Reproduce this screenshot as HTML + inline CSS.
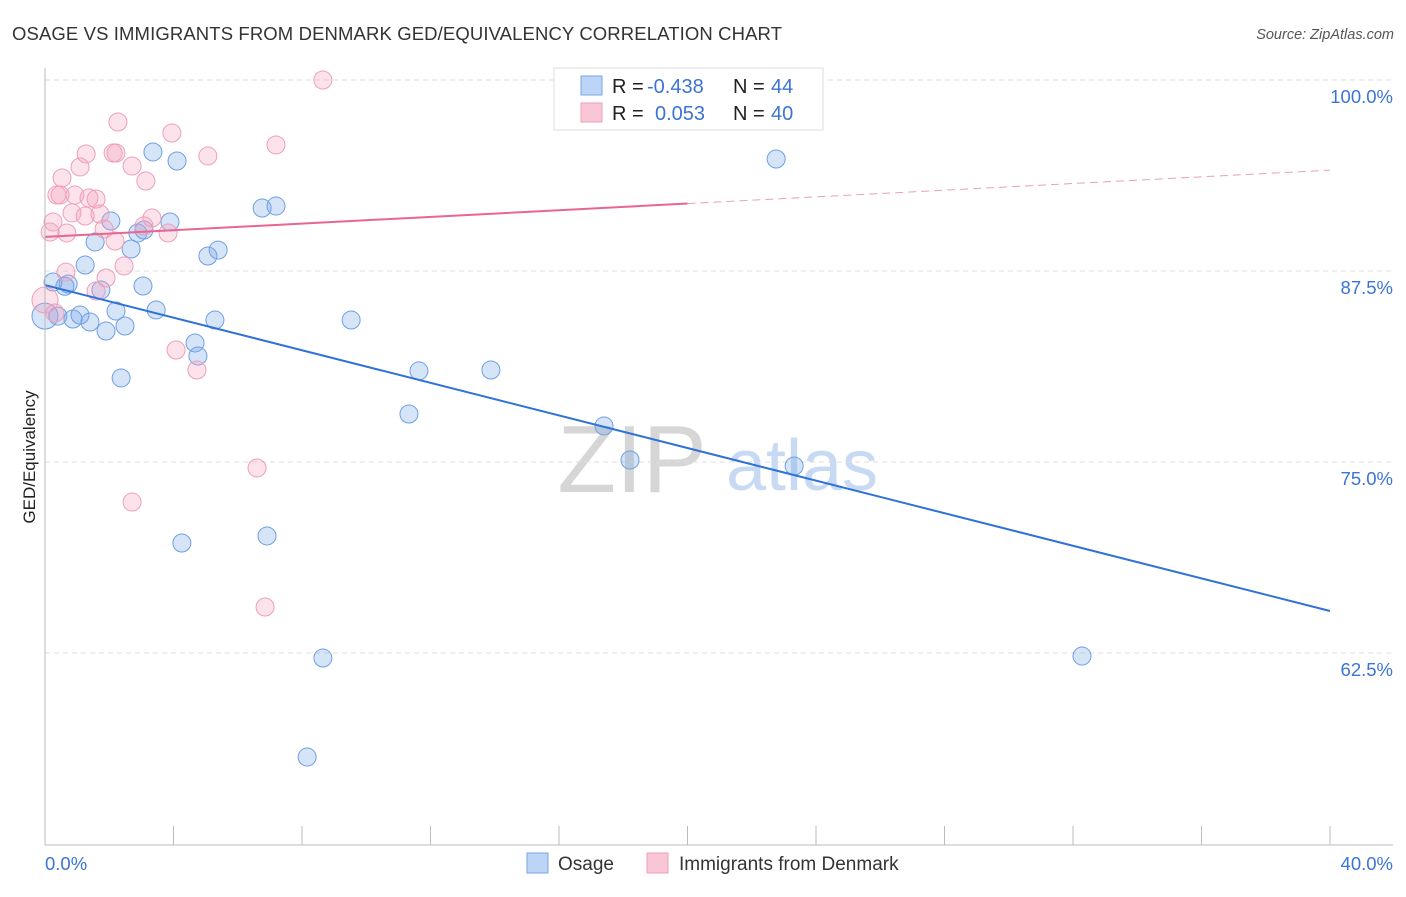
<!DOCTYPE html>
<html><head><meta charset="utf-8"><style>
body{margin:0;background:#fff;font-family:"Liberation Sans",sans-serif}
svg text{font-family:"Liberation Sans",sans-serif}
</style></head><body>
<svg id="chart" width="1406" height="892">
<text x="12" y="40" font-size="18.5" fill="#333" textLength="770">OSAGE VS IMMIGRANTS FROM DENMARK GED/EQUIVALENCY CORRELATION CHART</text>
<text x="1394" y="39" font-size="14.5" fill="#555" text-anchor="end" font-style="italic">Source: ZipAtlas.com</text>
<text x="35" y="457" font-size="17" fill="#222" text-anchor="middle" transform="rotate(-90 35 457)">GED/Equivalency</text>
<text x="632" y="492" font-size="96" fill="#d6d6d6" font-family="Liberation Serif" text-anchor="middle">ZIP</text>
<text x="802" y="490" font-size="72" fill="#c8daf3" text-anchor="middle">atlas</text>
<g id="grid"></g><g id="pts"></g><g id="lines"></g>
<line x1="45" y1="68" x2="45" y2="845" stroke="#bbb"/>
<line x1="45" y1="845" x2="1393" y2="845" stroke="#bbb"/>
<text x="45" y="870" font-size="18.5" fill="#3b74d4">0.0%</text>
<text x="1393" y="870" font-size="18.5" fill="#3b74d4" text-anchor="end">40.0%</text>
<g>
<rect x="554" y="68" width="269" height="62" fill="#fff" stroke="#ddd"/>
<rect x="581" y="76" width="21" height="19" fill="#bcd4f6" stroke="#7aa6e6"/>
<rect x="581" y="103" width="21" height="19" fill="#f9c6d5" stroke="#ee9fb8"/>
<text x="612" y="93" font-size="20" fill="#222">R = </text><text x="647" y="93" font-size="20" fill="#3b74d4">-0.438</text>
<text x="733" y="93" font-size="20" fill="#222">N = </text><text x="771" y="93" font-size="20" fill="#3b74d4">44</text>
<text x="612" y="120" font-size="20" fill="#222">R = </text><text x="655" y="120" font-size="20" fill="#3b74d4">0.053</text>
<text x="733" y="120" font-size="20" fill="#222">N = </text><text x="771" y="120" font-size="20" fill="#3b74d4">40</text>
</g>
<g>
<rect x="527" y="853" width="21" height="20" fill="#bcd4f6" stroke="#7aa6e6"/>
<text x="558" y="870" font-size="19" fill="#333">Osage</text>
<rect x="647" y="853" width="21" height="20" fill="#f9c6d5" stroke="#ee9fb8"/>
<text x="679" y="870" font-size="19" fill="#333">Immigrants from Denmark</text>
</g>
</svg>
<script>
const yTicks=[100,87.5,75,62.5];
const yTickLabels=["100.0%","87.5%","75.0%","62.5%"];
const blueX=[0,0.25,0.40,0.72,0.87,1.09,1.40,1.25,1.56,1.74,1.90,2.05,2.21,2.49,2.37,2.68,2.89,3.08,3.05,3.36,3.46,3.89,4.11,4.67,4.76,5.07,5.29,5.39,6.76,7.19,9.53,11.64,13.88,11.33,17.40,18.21,23.32,22.76,4.26,6.91,8.65,8.16,32.28,0.62];
const blueY=[84.55,86.78,84.55,86.65,84.36,84.62,84.16,87.89,89.40,86.26,83.57,90.77,84.88,83.90,80.50,88.94,89.99,90.18,86.52,95.29,84.95,90.71,94.70,82.79,81.94,88.48,84.29,88.87,91.62,91.75,84.29,80.96,81.02,78.14,77.36,75.13,74.74,94.83,69.70,70.16,62.17,55.69,62.30,86.5];
const pinkX=[0,0.25,0.16,0.37,0.53,0.47,0.68,0.93,0.84,1.09,1.28,1.25,1.37,1.59,1.71,1.84,2.27,2.12,2.21,2.71,3.14,3.33,3.08,3.83,3.95,5.07,7.19,8.65,18.65,2.18,2.46,1.90,1.59,0.65,4.08,4.73,6.60,2.71,6.85,0.31];
const pinkY=[85.60,90.71,90.05,92.47,93.59,92.47,89.99,92.47,91.30,94.31,95.16,91.10,92.28,92.21,91.23,90.25,97.25,95.22,95.22,94.37,93.39,90.97,90.45,89.99,96.53,95.03,95.75,100,100,89.46,87.83,87.04,86.19,87.43,82.33,81.02,74.61,72.38,65.51,84.75];
const blueTrend=[86.58,65.25];
const pinkTrend=[89.73,94.1];
const NS="http://www.w3.org/2000/svg";
const sx=v=>45+v*32.125, sy=v=>80+(100-v)*15.28;
function mk(t,a,p){const e=document.createElementNS(NS,t);for(const k in a)e.setAttribute(k,a[k]);p.appendChild(e);return e;}
const grid=document.getElementById('grid');
yTicks.forEach((t,i)=>{
 const l=mk('line',{x1:45,x2:1393,y1:sy(t),y2:sy(t),stroke:'#ddd','stroke-dasharray':'5,4'},grid);
 
 
 const tx=mk('text',{x:1393,y:sy(t)+23,'font-size':18.5,fill:'#3b74d4','text-anchor':'end'},grid);
 tx.textContent=yTickLabels[i];
 
 
});
for(let i=0;i<=10;i++){
 const l=mk('line',{x1:sx(i*4),x2:sx(i*4),y1:826,y2:845,stroke:'#bbb'},grid);
 
 
}
const pts=document.getElementById('pts');
function dots(X,Y,fill,stroke,name){X.forEach((x,i)=>{
 const r=(x===0)?13:9;
 const c=mk('circle',{cx:sx(x),cy:sy(Y[i]),r:r,fill:fill,stroke:stroke,'stroke-width':1},pts);
 
 
});}
dots(blueX,blueY,'rgba(120,165,232,0.3)','#6f9fe3','osage-point');
dots(pinkX,pinkY,'rgba(243,160,188,0.3)','#ef9fb9','denmark-point');
const lines=document.getElementById('lines');
const bl=mk('line',{x1:sx(0),y1:sy(blueTrend[0]),x2:sx(40),y2:sy(blueTrend[1]),stroke:'#2f72d8','stroke-width':2},lines);


const pm=pinkTrend[0]+(pinkTrend[1]-pinkTrend[0])*0.5;
const pl=mk('line',{x1:sx(0),y1:sy(pinkTrend[0]),x2:sx(20),y2:sy(pm),stroke:'#e8668f','stroke-width':2},lines);


const pd=mk('line',{x1:sx(20),y1:sy(pm),x2:sx(40),y2:sy(pinkTrend[1]),stroke:'#e8a0b6','stroke-width':1,'stroke-dasharray':'8,5'},lines);


</script>
</body></html>
